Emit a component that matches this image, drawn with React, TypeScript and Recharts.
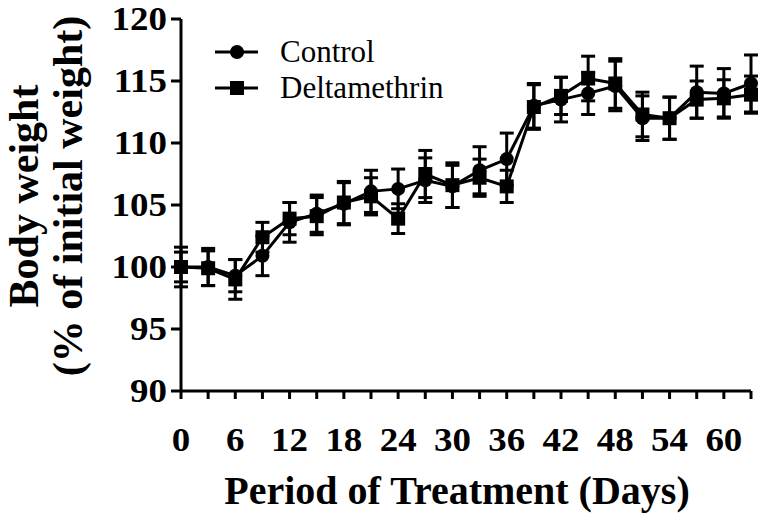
import { LineChart, Line, XAxis, YAxis, ErrorBar } from "recharts";

const days = [0, 3, 6, 9, 12, 15, 18, 21, 24, 27, 30, 33, 36, 39, 42, 45, 48, 51, 54, 57, 60, 63];
const controlMean = [100, 100, 99.3, 100.9, 103.6, 104.3, 105.1, 106.1, 106.3, 107, 106.5, 107.8, 108.7, 113, 113.5, 114, 114.6, 112, 112, 114.1, 114, 114.8];
const controlSem = [1.2, 1.5, 1.3, 1.6, 1.6, 1.5, 1.7, 1.7, 1.6, 1.8, 1.7, 1.9, 2.1, 1.8, 1.8, 1.7, 2.0, 1.8, 1.7, 2.1, 2.0, 2.3];
const deltaMean = [100, 99.9, 99.0, 102.4, 103.9, 104.1, 105.2, 105.7, 103.9, 107.5, 106.6, 107.2, 106.5, 112.9, 113.8, 115.2, 114.8, 112.3, 112, 113.5, 113.6, 113.9];
const deltaSem = [1.6, 1.4, 1.6, 1.2, 1.3, 1.5, 1.7, 1.5, 1.2, 1.9, 1.8, 1.5, 1.3, 1.8, 1.5, 1.8, 2.0, 1.8, 1.7, 1.5, 1.5, 1.5];

const xTicks = days;
const yTicks = [90, 95, 100, 105, 110, 115, 120];
const seriesNames = ["Control", "Deltamethrin"];

const data = days.map((d, i) => ({
  day: d,
  control: controlMean[i],
  controlErr: controlSem[i],
  delta: deltaMean[i],
  deltaErr: deltaSem[i],
}));

const FONT = "'Liberation Serif', 'Times New Roman', serif";
const bold = { fontFamily: FONT, fontWeight: 700 } as const;

// tick labels in the figure are a little wider than plain Times
function XTick(props: any) {
  const { x, y, payload } = props;
  if (payload.value % 6 !== 0) return null;
  return (
    <text
      transform={`translate(${x},${y + 50}) scale(1.12,1)`}
      textAnchor="middle"
      style={{ ...bold, fontSize: 33 }}
      fill="#000"
    >
      {payload.value}
    </text>
  );
}

function YTick(props: any) {
  const { x, y, payload } = props;
  return (
    <text
      transform={`translate(${x - 2},${y + 11}) scale(1.12,1)`}
      textAnchor="end"
      style={{ ...bold, fontSize: 33 }}
      fill="#000"
    >
      {payload.value}
    </text>
  );
}

function CircleDot(props: any) {
  const { cx, cy } = props;
  if (cx == null || cy == null) return null;
  return <circle cx={cx} cy={cy} r={7} fill="#000" />;
}

function SquareDot(props: any) {
  const { cx, cy } = props;
  if (cx == null || cy == null) return null;
  return <rect x={cx - 7} y={cy - 7} width={14} height={14} fill="#000" />;
}

function YLabel() {
  const cy = 196;
  return (
    <g fill="#000">
      <text x={38} y={cy} textAnchor="middle" transform={`rotate(-90 38 ${cy})`} style={{ ...bold, fontSize: 42 }}>
        Body weight
      </text>
      <text x={82} y={cy} textAnchor="middle" transform={`rotate(-90 82 ${cy})`} style={{ ...bold, fontSize: 42 }}>
        (% of initial weight)
      </text>
    </g>
  );
}

function XLabel() {
  return (
    <text x={457} y={504} textAnchor="middle" style={{ ...bold, fontSize: 40 }} fill="#000">
      Period of Treatment (Days)
    </text>
  );
}

function LegendBox() {
  return (
    <svg width={280} height={110} style={{ position: "absolute", left: 200, top: 20 }}>
      {seriesNames.map((name, i) => {
        const y = 32 + i * 36;
        return (
          <g key={name}>
            <line x1={15} x2={58} y1={y} y2={y} stroke="#000" strokeWidth={3} />
            {i === 0 ? (
              <circle cx={37} cy={y} r={7} fill="#000" />
            ) : (
              <rect x={30} y={y - 7} width={14} height={14} fill="#000" />
            )}
            <text x={80} y={y + 10} style={{ fontFamily: FONT, fontSize: 31, fontWeight: 400 }} fill="#000">
              {name}
            </text>
          </g>
        );
      })}
    </svg>
  );
}

export default function App() {
  return (
    <div style={{ position: "absolute", left: 0, top: 0, width: 760, height: 516, background: "#fff", fontFamily: FONT }}>
      <LineChart width={760} height={516} data={data} margin={{ top: 19, right: 9, bottom: 0, left: 0 }}>
        <XAxis
          dataKey="day"
          type="number"
          domain={[0, 63]}
          ticks={xTicks}
          interval={0}
          height={125}
          tick={<XTick />}
          tickSize={8}
          tickLine={{ stroke: "#000", strokeWidth: 3 }}
          axisLine={{ stroke: "#000", strokeWidth: 3 }}
          label={<XLabel />}
        />
        <YAxis
          type="number"
          domain={[90, 120]}
          ticks={yTicks}
          interval={0}
          width={181}
          tick={<YTick />}
          tickSize={10}
          tickLine={{ stroke: "#000", strokeWidth: 3 }}
          axisLine={{ stroke: "#000", strokeWidth: 3 }}
          label={<YLabel />}
        />
        <Line
          dataKey="control"
          name={seriesNames[0]}
          stroke="#000"
          strokeWidth={3}
          dot={<CircleDot />}
          activeDot={false}
          isAnimationActive={false}
        >
          <ErrorBar dataKey="controlErr" direction="y" width={7} stroke="#000" strokeWidth={3} isAnimationActive={false} />
        </Line>
        <Line
          dataKey="delta"
          name={seriesNames[1]}
          stroke="#000"
          strokeWidth={3}
          dot={<SquareDot />}
          activeDot={false}
          isAnimationActive={false}
        >
          <ErrorBar dataKey="deltaErr" direction="y" width={7} stroke="#000" strokeWidth={3} isAnimationActive={false} />
        </Line>
      </LineChart>
      <LegendBox />
    </div>
  );
}
